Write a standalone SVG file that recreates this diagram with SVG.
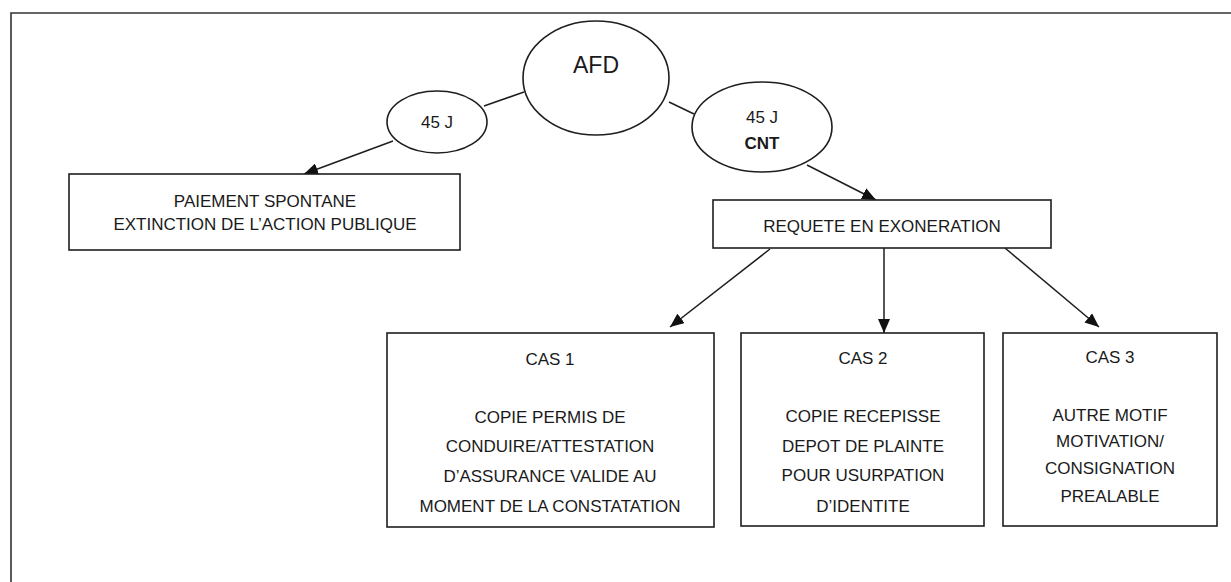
<svg xmlns="http://www.w3.org/2000/svg" width="1231" height="582" viewBox="0 0 1231 582">
  <defs>
    <style>
      .frame { fill: none; stroke: #333; stroke-width: 1.6; }
      .shape { fill: #fff; stroke: #1e1e1e; stroke-width: 1.6; }
      .edge { fill: none; stroke: #1e1e1e; stroke-width: 1.5; }
      .arrow { marker-end: url(#head); }
      text { font-family: "Liberation Sans", Arial, sans-serif; font-size: 17px; fill: #1a1a1a; text-anchor: middle; }
      .big { font-size: 23px; }
      .bold { font-weight: bold; }
    </style>
    <marker id="head" viewBox="0 0 14 12" refX="14" refY="6" markerWidth="14" markerHeight="12" markerUnits="userSpaceOnUse" orient="auto">
      <path d="M0,0 L14,6 L0,12 Z" fill="#111"/>
    </marker>
  </defs>

  <rect width="1231" height="582" fill="#fff"/>

  <!-- page frame: top and left rules -->
  <path class="frame" d="M11,582 V13 H1231"/>

  <!-- connectors -->
  <g id="connectors">
    <line class="edge" x1="524" y1="92" x2="484" y2="106"/>
    <line class="edge arrow" x1="393" y1="141" x2="304" y2="174"/>
    <line class="edge" x1="669" y1="102" x2="694" y2="114"/>
    <line class="edge arrow" x1="807" y1="165" x2="876" y2="200"/>
    <line class="edge arrow" x1="770" y1="249" x2="670" y2="327"/>
    <line class="edge arrow" x1="884" y1="248" x2="884" y2="333"/>
    <line class="edge arrow" x1="1005" y1="248" x2="1099" y2="327"/>
  </g>

  <g id="afd">
    <ellipse class="shape" cx="596" cy="78" rx="73" ry="57"/>
    <text class="big" x="596" y="73">AFD</text>
  </g>

  <g id="delai-45j">
    <ellipse class="shape" cx="437" cy="122" rx="50" ry="31"/>
    <text x="437" y="128">45 J</text>
  </g>

  <g id="delai-45j-cnt">
    <ellipse class="shape" cx="762" cy="127" rx="70" ry="45"/>
    <text x="762" y="123">45 J</text>
    <text class="bold" x="762" y="149">CNT</text>
  </g>

  <g id="paiement">
    <rect class="shape" x="69" y="174" width="391" height="76"/>
    <text x="265" y="207">PAIEMENT SPONTANE</text>
    <text x="265" y="230">EXTINCTION DE L’ACTION PUBLIQUE</text>
  </g>

  <g id="requete">
    <rect class="shape" x="713" y="200" width="338" height="48"/>
    <text x="882" y="232">REQUETE EN EXONERATION</text>
  </g>

  <g id="cas1">
    <rect class="shape" x="387" y="333" width="327" height="194"/>
    <text x="550" y="365">CAS 1</text>
    <text x="550" y="423">COPIE PERMIS DE</text>
    <text x="550" y="452">CONDUIRE/ATTESTATION</text>
    <text x="550" y="482">D’ASSURANCE VALIDE AU</text>
    <text x="550" y="512">MOMENT DE LA CONSTATATION</text>
  </g>

  <g id="cas2">
    <rect class="shape" x="741" y="333" width="243" height="193"/>
    <text x="863" y="364">CAS 2</text>
    <text x="863" y="422">COPIE RECEPISSE</text>
    <text x="863" y="452">DEPOT DE PLAINTE</text>
    <text x="863" y="481">POUR USURPATION</text>
    <text x="863" y="512">D’IDENTITE</text>
  </g>

  <g id="cas3">
    <rect class="shape" x="1003" y="333" width="214" height="193"/>
    <text x="1110" y="363">CAS 3</text>
    <text x="1110" y="421">AUTRE MOTIF</text>
    <text x="1110" y="447">MOTIVATION/</text>
    <text x="1110" y="474">CONSIGNATION</text>
    <text x="1110" y="502">PREALABLE</text>
  </g>
</svg>
